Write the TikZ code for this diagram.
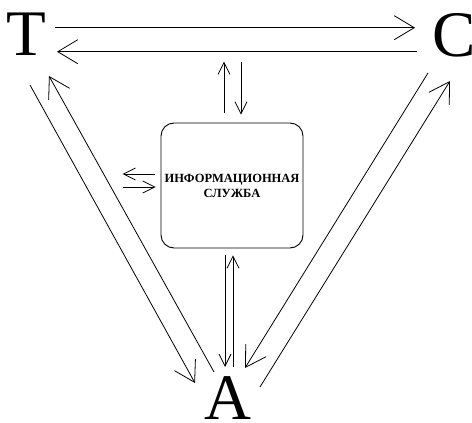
\documentclass[tikz,border=0pt]{standalone}
\usepackage{fontspec}
\setmainfont{Liberation Serif}
\usepackage{tikz}
\usetikzlibrary{arrows.meta}
\tikzset{
    letter/.style={
        inner sep=0pt,
        font=\fontsize{65}{65}\selectfont
    },
    service/.style={
        rectangle,
        rounded corners=13pt,
        draw=black,
        line width=0.9pt,
        minimum width=142pt,
        minimum height=125pt,
        align=center,
        font=\bfseries\fontsize{12.5}{15}\selectfont
    }
}
\tikzstyle{bigarrow} = [line width=0.8pt, -{Straight Barb[length=20pt,width=24pt]}]
\tikzstyle{smallarrow} = [line width=0.8pt, -{Straight Barb[length=12pt,width=12pt]}]

\begin{document}
\begin{tikzpicture}[x=1pt,y=-1pt]
          \useasboundingbox (0,0) rectangle (472,423);
          \node (T) [letter] at (26.5,34.5) {T};
          \node (C) [letter] at (454.5,35) {C};
          \node (A) [letter] at (228,398.5) {A};
          \node (info) [service] at (232,185.5) {ИНФОРМАЦИОННАЯ\\СЛУЖБА};
          % T <-> C
          \draw [bigarrow] ([shift={(28.5,-6.8)}]T.center) -- ([shift={(-39.5,-7.3)}]C.center);
          \draw [bigarrow] ([shift={(-37.5,16.7)}]C.center) -- ([shift={(30.5,17.2)}]T.center);
          % T <-> A
          \draw [bigarrow] ([shift={(3.5,50.5)}]T.center) -- ([shift={(-33,-15.5)}]A.center);
          \draw [bigarrow] ([shift={(-14,-26.5)}]A.center) -- ([shift={(22.5,41.5)}]T.center);
          % C <-> A
          \draw [bigarrow] ([shift={(-26.5,38)}]C.center) -- ([shift={(17,-30.5)}]A.center);
          \draw [bigarrow] ([shift={(32,-11.5)}]A.center) -- ([shift={(-4.5,46)}]C.center);
          % info <-> top link
          \draw [smallarrow] ([shift={(-8,-10)}]info.north) -- ([shift={(-8,-61)}]info.north);
          \draw [smallarrow] ([shift={(9,-61)}]info.north) -- ([shift={(9,-8)}]info.north);
          % info <-> left side
          \draw [smallarrow] ([shift={(-6,-11.5)}]info.west) -- ([shift={(-38,-11.5)}]info.west);
          \draw [smallarrow] ([shift={(-38,1.5)}]info.west) -- ([shift={(-5,1.5)}]info.west);
          % info <-> A
          \draw [smallarrow] ([shift={(-7,7)}]info.south) -- ([shift={(-3,-31.5)}]A.center);
          \draw [smallarrow] ([shift={(5,-31.5)}]A.center) -- ([shift={(1,7)}]info.south);
        \end{tikzpicture}
\end{document}
